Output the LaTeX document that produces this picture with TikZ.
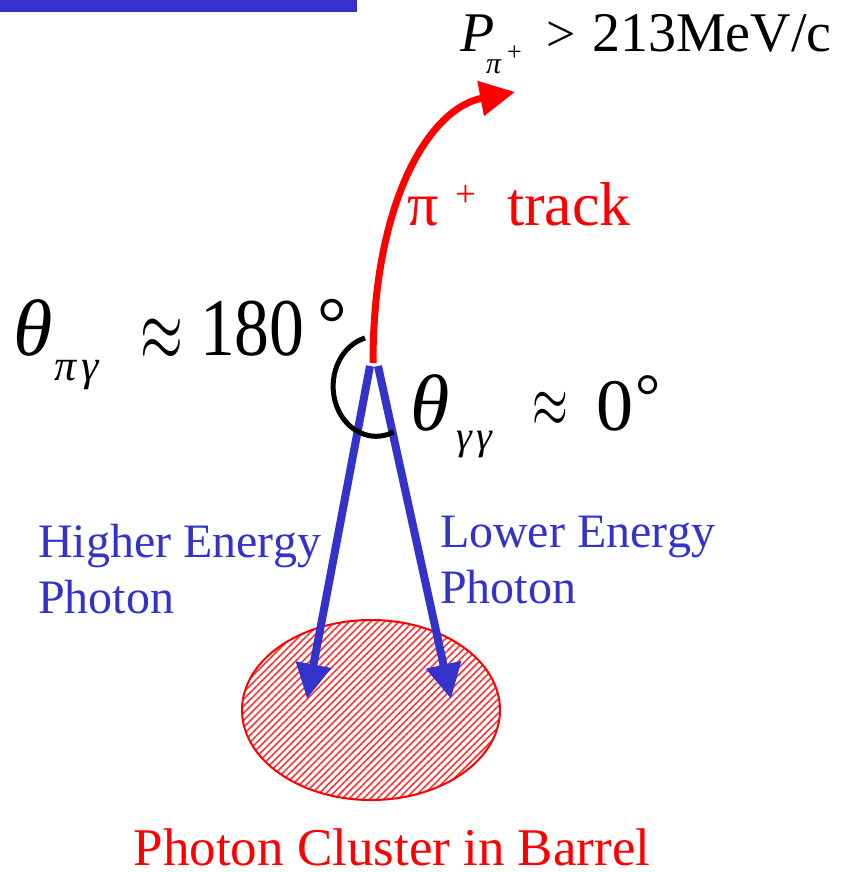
\documentclass[tikz,border=0pt]{standalone}
\usepackage{fontspec}
\usepackage{graphicx}
\setmainfont{Liberation Serif}
\usetikzlibrary{arrows.meta,patterns.meta}
\definecolor{pblue}{RGB}{51,51,204}
\definecolor{pred}{RGB}{255,0,0}
\newcommand{\fsz}[1]{\fontsize{#1}{#1}\selectfont}
\begin{document}
\begin{tikzpicture}[x=1pt,y=-1pt,
  txt/.style={inner sep=0pt, outer sep=0pt, anchor=base west},
  bluetxt/.style={inner sep=0pt, outer sep=0pt, text=pblue, align=left, font=\fontsize{48}{56}\selectfont},
  redtxt/.style={txt, text=pred},
  photon/.style={pblue, line width=8pt, -{Triangle[length=35pt,width=34pt]}},
  track/.style={pred, line width=7pt, -{Triangle[length=35pt,width=34pt]}},
  anglearc/.style={black, line width=5pt}]
\useasboundingbox (0,0) rectangle (841,872);
% header bar (cut off)
\fill[pblue] (0,0) rectangle (357,12);
% cluster
\draw[pred, line width=2pt, pattern={Lines[angle=45,distance=5pt,line width=1.6pt]}, pattern color=pred!80] (371,710) ellipse [x radius=129, y radius=90];
% coordinates
\coordinate (trk0) at (373,363);
\coordinate (trk1) at (515,92);
\coordinate (bl0) at (370,366);
\coordinate (bl1) at (307,699);
\coordinate (br0) at (378,366);
\coordinate (br1) at (451,699);
% photons
\draw[photon] (bl0) -- (bl1);
\draw[photon] (br0) -- (br1);
% track
\draw[track] (trk0) .. controls (373,200) and (430,108) .. (trk1);
% angle arc
\draw[anglearc] (365,338) arc[start angle=255, end angle=66, x radius=43, y radius=50];
% momentum label
\node[txt] (P) at (460,52) {\fsz{56}\itshape P};
\node[txt] (Ppi) at (486,74) {\fsz{30}\itshape π};
\node[txt] (Pplus) at (507,61) {\fsz{26}+};
\node[txt] (Pgt) at (546,52) {\fsz{52}>};
\node[txt] (Pval) at (592,52) {\fsz{56}213MeV/c};
% track label
\node[redtxt] (tpi) at (407,225) {\fsz{62}π};
\node[redtxt] (tplus) at (455,206) {\fsz{37}+};
\node[redtxt] (ttrack) at (507,225) {\fsz{62}track};
% theta pi gamma
\node[txt] (th1) at (13,355) {\fsz{80}\itshape θ};
\node[txt] (th1a) at (54,380) {\fsz{44}\itshape π};
\node[txt] (th1b) at (81,380) {\fsz{44}\itshape γ};
\node[txt] (ap1) at (140,361) {\scalebox{5.5}[8.8]{$\approx$}};
\node[txt, xscale=0.85] (n180) at (200,355) {\fsz{82}180};
\node[txt] (deg1) at (317,348) {\fsz{74}°};
% theta gamma gamma
\node[txt] (th2) at (410,430) {\fsz{80}\itshape θ};
\node[txt] (th2a) at (456,449) {\fsz{40}\itshape γ};
\node[txt] (th2b) at (476,449) {\fsz{40}\itshape γ};
\node[txt] (ap2) at (532,427) {\scalebox{4.6}[7.3]{$\approx$}};
\node[txt] (n0) at (596,430) {\fsz{74}0};
\node[txt] (deg2) at (635,417) {\fsz{63}°};
% photon labels
\node[bluetxt, anchor=north west] (hi) at (38,524) {Higher Energy\\Photon};
\node[bluetxt, anchor=north west] (lo) at (440,516) {Lower Energy\\Photon};
% cluster label
\node[inner sep=0pt, anchor=base, text=pred, font=\fsz{53}] (clus) at (392,865) {Photon Cluster in Barrel};
\end{tikzpicture}
\end{document}
